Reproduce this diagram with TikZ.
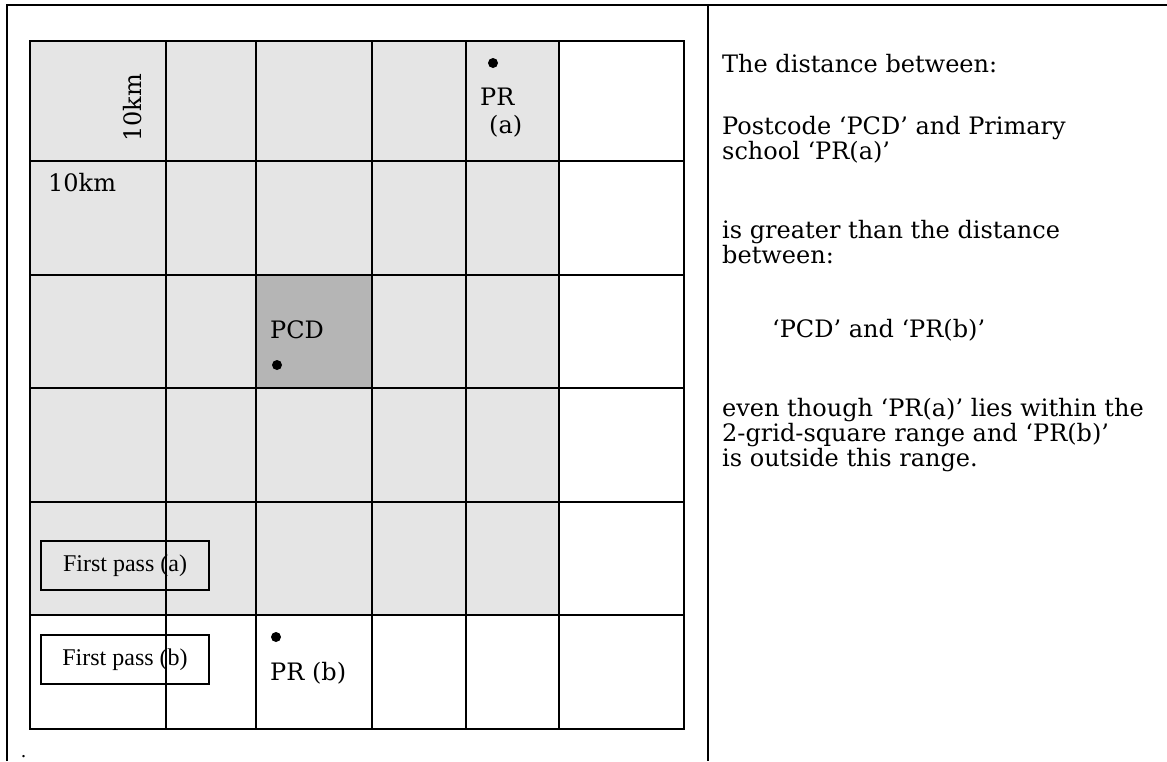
\documentclass[tikz,border=0pt]{standalone}
\usepackage{fontspec}
\setmainfont{DejaVu Serif}
\newfontfamily\tnr{Liberation Serif}
\definecolor{cellgray}{HTML}{E5E5E5}
\definecolor{pcdgray}{HTML}{B5B5B5}
\begin{document}
\begin{tikzpicture}[x=1pt,y=-1pt,
  gridline/.style={line width=2.2pt},
  frameline/.style={line width=2pt},
  lbl/.style={inner sep=0pt, font=\fontsize{24}{28}\selectfont},
  rtext/.style={inner sep=0pt, anchor=base west, font=\fontsize{24}{28}\selectfont},
  passbox/.style={draw, line width=1.8pt, minimum width=168pt, minimum height=49pt, inner sep=0pt, font=\tnr\fontsize{24}{28}\selectfont},
  spot/.style={circle, fill=black, inner sep=0pt, minimum size=10pt}
]
\useasboundingbox (0,0) rectangle (1167,761);
% shading
\fill[cellgray] (30,41) rectangle (559,615);
\fill[pcdgray] (256,275) rectangle (372,388);
% first pass boxes
\node[passbox] (fpa) at (125,565.5) {First pass (a)};
\node[passbox] (fpb) at (125,659.5) {First pass (b)};
% grid
\foreach \x in {166,256,372,466,559} \draw[gridline] (\x,41) -- (\x,729);
\foreach \y in {161,275,388,502,615} \draw[gridline] (30,\y) -- (684,\y);
\draw[gridline] (30,41) rectangle (684,729);
% outer frame
\draw[frameline] (7,761) -- (7,5) -- (1167,5);
\draw[frameline] (708,5) -- (708,761);
% grid labels
\node[lbl, rotate=90] (kmv) at (133,108) {10km};
\node[lbl, anchor=base west] (kmh) at (48,191) {10km};
\node[spot] (dota) at (493,63) {};
\node[lbl, anchor=base west] (pra1) at (480,105) {PR};
\node[lbl, anchor=base west] (pra2) at (489,133) {(a)};
\node[lbl, anchor=base west] (pcd) at (270,338) {PCD};
\node[spot] (dotpcd) at (277,365) {};
\node[spot] (dotb) at (276,637) {};
\node[lbl, anchor=base west] (prb) at (270,680) {PR (b)};
% right text
\node[rtext] (t1) at (722,72) {The distance between:};
\node[rtext] (t2) at (722,134) {Postcode ‘PCD’ and Primary};
\node[rtext] (t3) at (722,159) {school ‘PR(a)’};
\node[rtext] (t4) at (722,238) {is greater than the distance};
\node[rtext] (t5) at (722,263) {between:};
\node[rtext] (t6) at (772,337) {‘PCD’ and ‘PR(b)’};
\node[rtext] (t7) at (722,416) {even though ‘PR(a)’ lies within the};
\node[rtext] (t8) at (722,441) {2-grid-square range and ‘PR(b)’};
\node[rtext] (t9) at (722,466) {is outside this range.};
% stray period
\node[inner sep=0pt, anchor=base west, font=\tnr\fontsize{20}{24}\selectfont] (period) at (21,757) {.};
\end{tikzpicture}
\end{document}
